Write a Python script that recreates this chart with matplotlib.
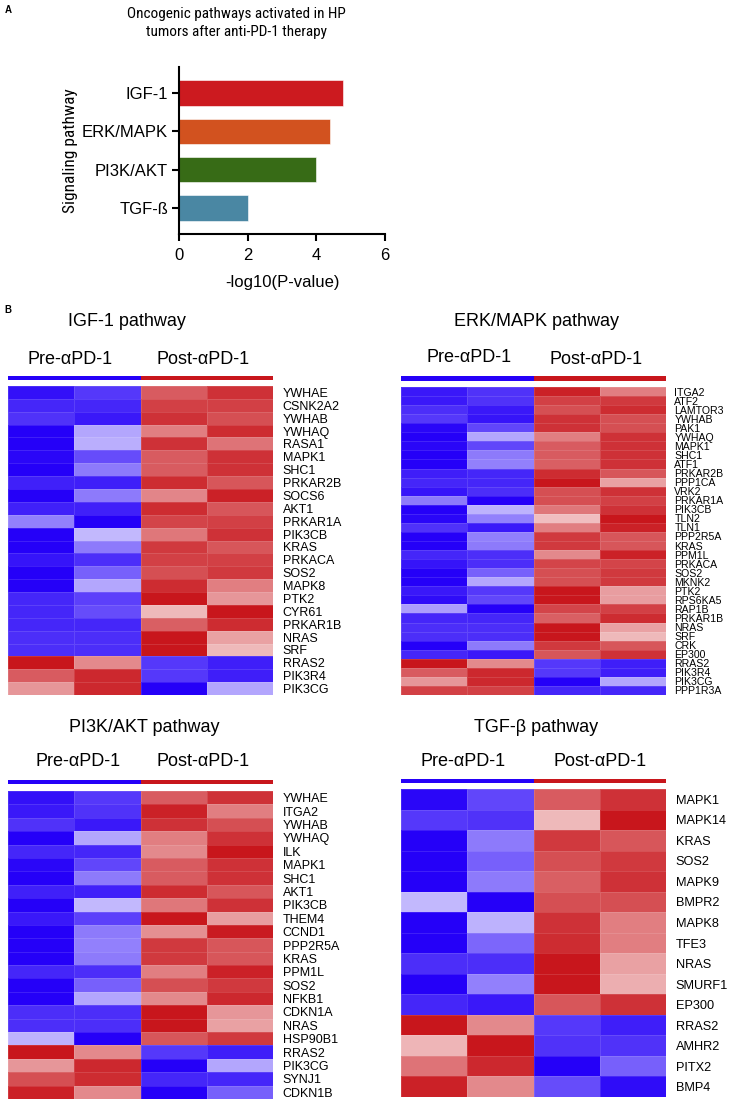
import numpy as np
import matplotlib
matplotlib.use('Agg')
import matplotlib.pyplot as plt
from matplotlib.colors import LinearSegmentedColormap
from matplotlib import font_manager

plt.rcParams['font.family'] = ['Liberation Sans', 'DejaVu Sans']

# ---------------- data ----------------
pathways = ['IGF-1', 'ERK/MAPK', 'PI3K/AKT', 'TGF-ß']
neglogp = [4.77, 4.40, 3.99, 2.00]
bar_colors = ['#CC1A1F', '#D2521F', '#376B16', '#4A87A3']

groups = ['Pre-αPD-1', 'Post-αPD-1']

igf_genes = ['YWHAE', 'CSNK2A2', 'YWHAB', 'YWHAQ', 'RASA1', 'MAPK1', 'SHC1', 'PRKAR2B',
             'SOCS6', 'AKT1', 'PRKAR1A', 'PIK3CB', 'KRAS', 'PRKACA', 'SOS2', 'MAPK8',
             'PTK2', 'CYR61', 'PRKAR1B', 'NRAS', 'SRF', 'RRAS2', 'PIK3R4', 'PIK3CG']
igf_vals = [[-0.93, -0.78, 0.70, 0.88], [-0.85, -0.85, 0.82, 0.82], [-0.80, -0.90, 0.88, 0.75],
            [-1.00, -0.35, 0.55, 0.90], [-1.00, -0.32, 0.88, 0.60], [-0.97, -0.70, 0.70, 0.88],
            [-1.00, -0.52, 0.70, 0.88], [-0.87, -0.88, 0.90, 0.72], [-1.00, -0.52, 0.52, 0.95],
            [-0.87, -0.87, 0.90, 0.72], [-0.50, -1.00, 0.80, 0.82], [-1.00, -0.28, 0.58, 0.88],
            [-1.00, -0.52, 0.85, 0.72], [-0.92, -0.82, 0.82, 0.82], [-1.00, -0.62, 0.75, 0.85],
            [-1.00, -0.35, 0.90, 0.55], [-0.85, -0.75, 1.00, 0.45], [-0.85, -0.70, 0.30, 1.00],
            [-0.85, -0.85, 0.68, 0.90], [-0.82, -0.82, 1.00, 0.40], [-0.82, -0.82, 1.00, 0.30],
            [1.00, 0.50, -0.78, -0.88], [0.70, 0.92, -0.78, -0.88], [0.45, 0.92, -1.00, -0.35]]

erk_genes = ['ITGA2', 'ATF2', 'LAMTOR3', 'YWHAB', 'PAK1', 'YWHAQ', 'MAPK1', 'SHC1', 'ATF1',
             'PRKAR2B', 'PPP1CA', 'VRK2', 'PRKAR1A', 'PIK3CB', 'TLN2', 'TLN1', 'PPP2R5A',
             'KRAS', 'PPM1L', 'PRKACA', 'SOS2', 'MKNK2', 'PTK2', 'RPS6KA5', 'RAP1B',
             'PRKAR1B', 'NRAS', 'SRF', 'CRK', 'EP300', 'RRAS2', 'PIK3R4', 'PIK3CG', 'PPP1R3A']
erk_vals = [[-0.90, -0.80, 0.95, 0.55], [-0.90, -0.80, 0.82, 0.85], [-0.82, -0.90, 0.75, 0.90],
            [-0.78, -0.92, 0.88, 0.75], [-0.97, -0.72, 0.88, 0.75], [-1.00, -0.35, 0.55, 0.88],
            [-0.97, -0.72, 0.70, 0.88], [-1.00, -0.52, 0.70, 0.88], [-1.00, -0.50, 0.68, 0.88],
            [-0.88, -0.85, 0.90, 0.72], [-0.85, -0.85, 1.00, 0.40], [-0.92, -0.82, 0.75, 0.88],
            [-0.52, -1.00, 0.75, 0.82], [-1.00, -0.30, 0.58, 0.88], [-0.97, -0.50, 0.28, 1.00],
            [-0.80, -0.90, 0.55, 0.95], [-1.00, -0.50, 0.85, 0.72], [-1.00, -0.52, 0.85, 0.72],
            [-0.85, -0.82, 0.50, 0.95], [-0.92, -0.82, 0.80, 0.80], [-1.00, -0.62, 0.75, 0.85],
            [-1.00, -0.35, 0.75, 0.85], [-0.90, -0.78, 1.00, 0.42], [-0.95, -0.72, 1.00, 0.42],
            [-0.38, -1.00, 0.80, 0.82], [-0.85, -0.85, 0.68, 0.90], [-0.82, -0.82, 1.00, 0.40],
            [-0.82, -0.82, 1.00, 0.30], [-1.00, -0.52, 0.85, 0.72], [-0.85, -0.90, 0.72, 0.88],
            [1.00, 0.50, -0.78, -0.88], [0.70, 0.92, -0.78, -0.88], [0.45, 0.92, -1.00, -0.35],
            [0.82, 0.82, -0.85, -0.85]]

pi3k_genes = ['YWHAE', 'ITGA2', 'YWHAB', 'YWHAQ', 'ILK', 'MAPK1', 'SHC1', 'AKT1', 'PIK3CB',
              'THEM4', 'CCND1', 'PPP2R5A', 'KRAS', 'PPM1L', 'SOS2', 'NFKB1', 'CDKN1A', 'NRAS',
              'HSP90B1', 'RRAS2', 'PIK3CG', 'SYNJ1', 'CDKN1B']
pi3k_vals = [[-0.93, -0.78, 0.70, 0.88], [-0.90, -0.80, 0.95, 0.55], [-0.80, -0.90, 0.88, 0.75],
             [-1.00, -0.35, 0.55, 0.88], [-0.85, -0.85, 0.50, 1.00], [-0.97, -0.72, 0.70, 0.88],
             [-1.00, -0.52, 0.70, 0.88], [-0.87, -0.87, 0.90, 0.72], [-1.00, -0.28, 0.58, 0.88],
             [-0.90, -0.75, 1.00, 0.42], [-1.00, -0.52, 0.48, 0.97], [-1.00, -0.50, 0.85, 0.72],
             [-1.00, -0.52, 0.85, 0.72], [-0.85, -0.82, 0.55, 0.95], [-1.00, -0.62, 0.75, 0.85],
             [-1.00, -0.35, 0.50, 0.92], [-0.82, -0.82, 1.00, 0.45], [-0.82, -0.82, 1.00, 0.40],
             [-0.30, -1.00, 0.72, 0.85], [1.00, 0.50, -0.78, -0.88], [0.45, 0.92, -1.00, -0.35],
             [0.75, 0.90, -0.85, -0.85], [0.95, 0.50, -1.00, -0.62]]

tgf_genes = ['MAPK1', 'MAPK14', 'KRAS', 'SOS2', 'MAPK9', 'BMPR2', 'MAPK8', 'TFE3', 'NRAS',
             'SMURF1', 'EP300', 'RRAS2', 'AMHR2', 'PITX2', 'BMP4']
tgf_vals = [[-0.97, -0.72, 0.70, 0.88], [-0.78, -0.80, 0.30, 1.00], [-1.00, -0.52, 0.85, 0.72],
            [-1.00, -0.62, 0.75, 0.85], [-1.00, -0.52, 0.68, 0.88], [-0.28, -1.00, 0.75, 0.75],
            [-1.00, -0.30, 0.88, 0.55], [-1.00, -0.60, 0.90, 0.55], [-0.82, -0.82, 1.00, 0.40],
            [-1.00, -0.50, 1.00, 0.35], [-0.85, -0.90, 0.72, 0.88], [1.00, 0.50, -0.78, -0.88],
            [0.32, 1.00, -0.80, -0.80], [0.60, 0.92, -1.00, -0.62], [0.95, 0.50, -0.70, -0.95]]

# ---------------- figure ----------------
W, H = 737, 1102
fig = plt.figure(figsize=(W / 100, H / 100), dpi=100)


def box(x0, y0, x1, y1):
    # axes from pixel box (top-left origin)
    return fig.add_axes([x0 / W, 1 - y1 / H, (x1 - x0) / W, (y1 - y0) / H])


def ftxt(x, y, s, **kw):
    kw.setdefault('ha', 'center')
    kw.setdefault('va', 'center')
    return fig.text(x / W, 1 - y / H, s, **kw)


# condensed face for panel A title if one exists
installed = {f.name for f in font_manager.fontManager.ttflist}
narrow = [f for f in ['Liberation Sans Narrow', 'Roboto Condensed', 'Roboto', 'Lato']
          if f in installed] + ['Liberation Sans']
is_cond = narrow[0] in ('Liberation Sans Narrow', 'Roboto Condensed')
title_fs = 11 if is_cond else 10
ylab_fs = 12.5 if is_cond else 11

# ---- panel A: bar chart ----
ftxt(8, 10, 'A', fontsize=7, fontweight='bold')
ftxt(236, 23, 'Oncogenic pathways activated in HP\ntumors after anti-PD-1 therapy',
     fontsize=title_fs, family=narrow, linespacing=1.45)

ax = box(179, 67, 385, 234)
ypos = np.arange(len(pathways))[::-1]
ax.barh(ypos, neglogp, height=0.66, color=bar_colors, edgecolor='white', linewidth=0.4)
ax.set_xlim(0, 6)
ax.set_ylim(-0.68, 3.68)
ax.set_xticks([0, 2, 4, 6])
ax.set_yticks(ypos)
ax.set_yticklabels(pathways)
for s in ['top', 'right']:
    ax.spines[s].set_visible(False)
for s in ['left', 'bottom']:
    ax.spines[s].set_linewidth(1.5)
ax.tick_params(axis='both', width=1.5, length=5, labelsize=12, pad=3)
ax.tick_params(axis='x', pad=5)
ax.set_xlabel('-log10(P-value)', fontsize=12, labelpad=9)
ftxt(70, 151, 'Signaling pathway', rotation=90, fontsize=ylab_fs, family=narrow)

# ---- panel B: heatmaps ----
ftxt(8, 310, 'B', fontsize=7, fontweight='bold')

cmap = LinearSegmentedColormap.from_list('bwr_fig', ['#2500F8', '#FFFFFF', '#C8161C'])


def heatmap(x0, x1, y_strip, top, bottom, title, title_xy, pre_xy, post_xy,
            genes, vals, gene_fs, pad):
    ftxt(title_xy[0], title_xy[1], title, fontsize=13)
    ftxt(pre_xy[0], pre_xy[1], groups[0], fontsize=13)
    ftxt(post_xy[0], post_xy[1], groups[1], fontsize=13)

    sax = box(x0, y_strip[0], x1, y_strip[1])
    sax.pcolormesh(np.array([[-1, 1]]), cmap=cmap, vmin=-1, vmax=1)
    sax.set_axis_off()

    hax = box(x0, top, x1, bottom)
    data = np.array(vals)
    hax.pcolormesh(data, cmap=cmap, vmin=-1, vmax=1,
                   edgecolor=(1, 1, 1, 0.12), linewidth=0.4)
    hax.set_xlim(0, data.shape[1])
    hax.set_ylim(data.shape[0], 0)
    hax.set_xticks([])
    hax.yaxis.tick_right()
    hax.set_yticks(np.arange(len(genes)) + 0.5)
    hax.set_yticklabels(genes, fontsize=gene_fs)
    hax.tick_params(axis='y', length=0, pad=pad)
    for s in hax.spines.values():
        s.set_visible(False)


heatmap(8, 273, (375.5, 379.5), 386, 695, 'IGF-1 pathway', (127, 321), (70, 360), (203, 359),
        igf_genes, igf_vals, 9, 7)
heatmap(401, 666, (376, 380.5), 387, 695, 'ERK/MAPK pathway', (536, 321), (469, 358),
        (596, 360), erk_genes, erk_vals, 7.6, 6)
heatmap(8, 273, (780, 784), 791, 1099, 'PI3K/AKT pathway', (144, 728), (78, 762), (203, 762),
        pi3k_genes, pi3k_vals, 9, 7)
heatmap(401, 666, (778.5, 783), 789, 1097, 'TGF-β pathway', (536, 728), (463, 762), (600, 762),
        tgf_genes, tgf_vals, 9.2, 7)

fig.savefig('out.png', dpi=100)
